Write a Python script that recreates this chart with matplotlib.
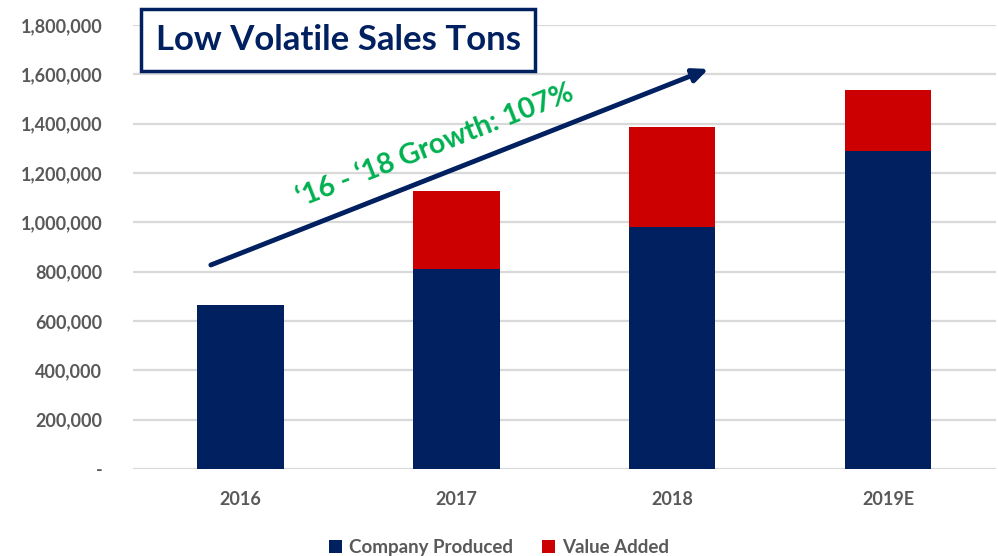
import matplotlib
matplotlib.use("Agg")
import matplotlib.pyplot as plt
from matplotlib.ticker import FuncFormatter

categories = ["2016", "2017", "2018", "2019E"]
company_produced = [665000, 811000, 981000, 1290000]
value_added = [0, 316000, 405000, 247000]
yticks = [0, 200000, 400000, 600000, 800000, 1000000, 1200000, 1400000, 1600000, 1800000]

NAVY = "#002060"
RED = "#CC0000"
GRAY = "#595959"
GREEN = "#00B050"

plt.rcParams['font.family'] = ['Lato', 'DejaVu Sans']

fig = plt.figure(figsize=(9.98, 5.56), dpi=100)
ax = fig.add_axes([0.133, 0.1565, 0.865, 0.7985])

x = list(range(len(categories)))
ax.bar(x, company_produced, width=0.4, color=NAVY, label="Company Produced", zorder=3)
ax.bar(x, value_added, width=0.4, bottom=company_produced, color=RED, label="Value Added", zorder=3)

ax.set_xlim(-0.5, 3.5)
ax.set_ylim(0, 1800000)
ax.set_yticks(yticks)
ax.yaxis.set_major_formatter(FuncFormatter(lambda v, p: "-" if v == 0 else f"{int(v):,}"))
ax.set_xticks(x)
ax.set_xticklabels(categories)
ax.tick_params(axis='both', length=0, labelsize=13, labelcolor=GRAY)
ax.tick_params(axis='y', pad=22)
ax.tick_params(axis='x', pad=16)
for lab in ax.get_xticklabels() + ax.get_yticklabels():
    lab.set_fontweight('bold')
ax.grid(axis='y', color="#D9D9D9", linewidth=1.6, zorder=0)
for s in ax.spines.values():
    s.set_visible(False)

# Title box
fig.text(0.339, 0.928, "Low Volatile Sales Tons", ha='center', va='center',
         fontsize=25, fontweight='bold', color=NAVY,
         bbox=dict(boxstyle='square,pad=0.42', facecolor='white', edgecolor=NAVY, linewidth=2.5),
         zorder=10)

# Growth arrow
ax.annotate("", xy=(2.18, 1626000), xytext=(-0.15, 823000),
            arrowprops=dict(arrowstyle='-|>,head_length=0.9,head_width=0.4', color=NAVY, lw=3.5),
            zorder=5)
ax.text(0.90, 1310000, "\u201816 - \u201818 Growth: 107%", rotation=21.4, rotation_mode='anchor',
        ha='center', va='center', fontsize=20.5, fontweight='bold', color=GREEN, zorder=6)

leg = fig.legend(loc='lower center', bbox_to_anchor=(0.5, -0.03), ncol=2, frameon=False,
                 fontsize=13.5, handlelength=0.7, handleheight=0.7, columnspacing=1.5, handletextpad=0.4)
for t in leg.get_texts():
    t.set_color(GRAY)
    t.set_fontweight('bold')

fig.savefig("out.png", dpi=100)
